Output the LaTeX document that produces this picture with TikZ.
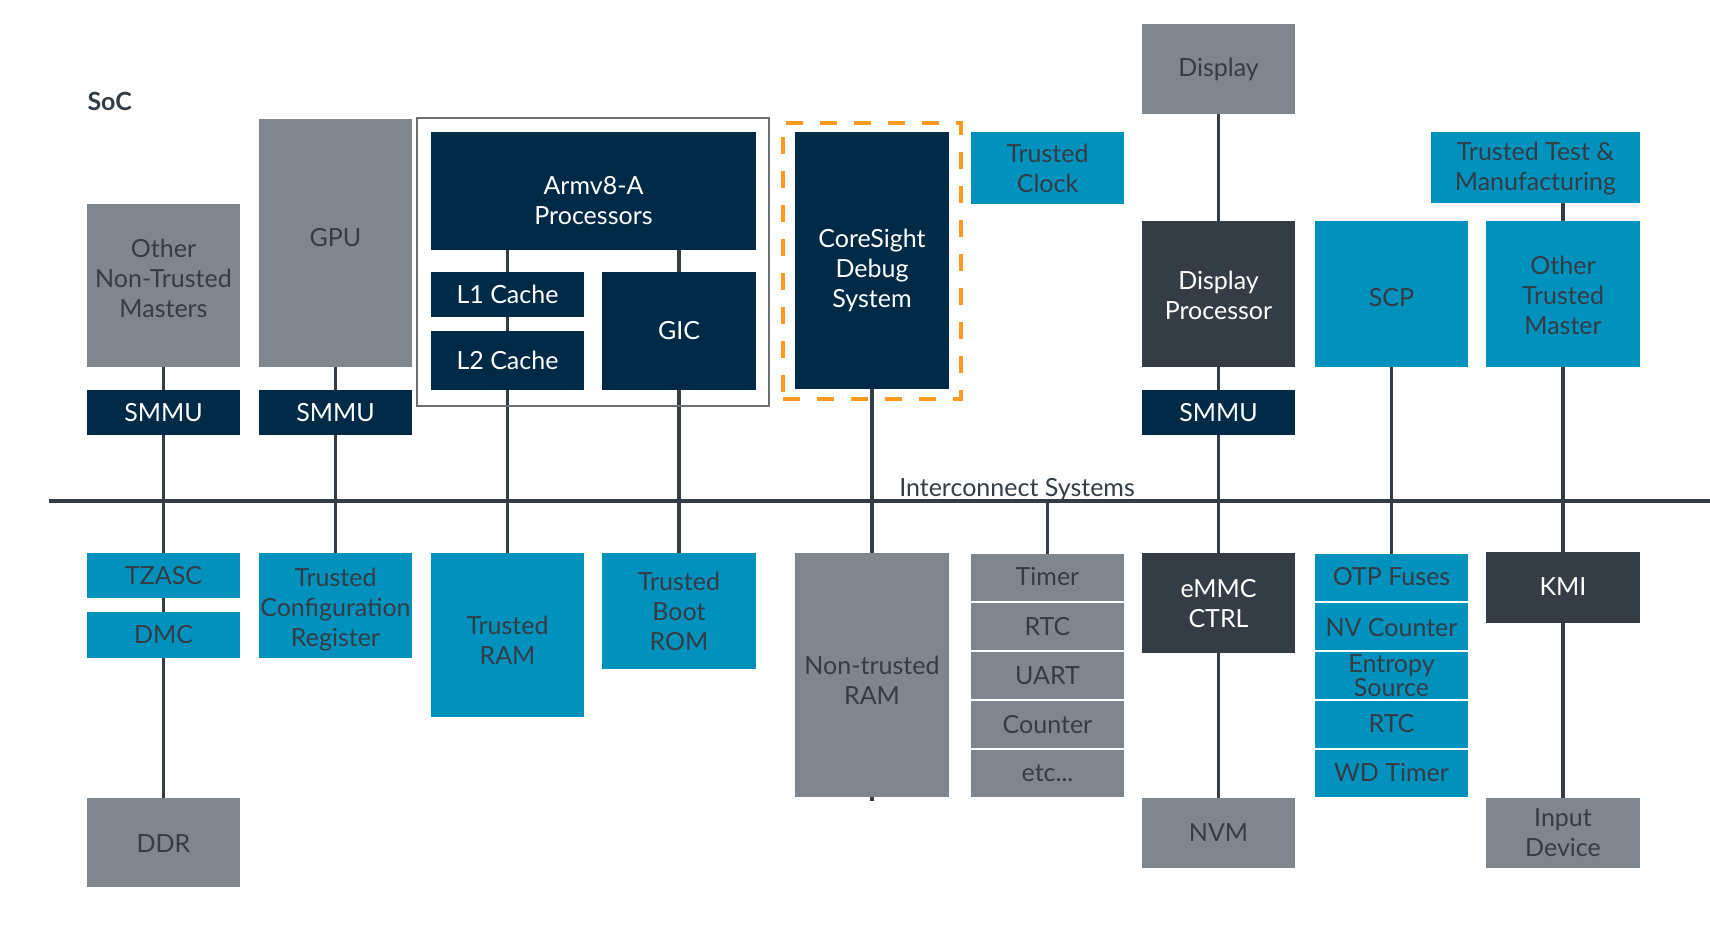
\documentclass[tikz,border=0pt]{standalone}
\usepackage{fontspec}
\setmainfont{Lato}
\usetikzlibrary{backgrounds}

\definecolor{socgrey}{HTML}{7F868D}
\definecolor{socnavy}{HTML}{012A47}
\definecolor{socslate}{HTML}{343D46}
\definecolor{soccyan}{HTML}{0091BD}
\definecolor{socorange}{HTML}{FF9A1E}
\definecolor{socframe}{HTML}{6E6F71}

% text set a little lower (or higher) in its box
\newcommand{\dropby}[2]{\raisebox{-#1}[\height][\depth]{\begin{tabular}{@{}c@{}}#2\end{tabular}}}

\tikzset{
  wh/.style 2 args={minimum width=#1pt, minimum height=#2pt},
  blk/.style={rectangle, inner sep=0pt, align=center, font=\fontsize{25}{30}\selectfont},
  greybox/.style={blk, fill=socgrey, text=socslate},
  cyanbox/.style={blk, fill=soccyan, text=socslate},
  navybox/.style={blk, fill=socnavy, text=white},
  slatebox/.style={blk, fill=socslate, text=white},
  link/.style={draw=socslate, line width=3.5pt}
}

\begin{document}
\begin{tikzpicture}[x=1pt, y=-1pt]
            \useasboundingbox (0,0) rectangle (1710,943);
            \node[anchor=base west, text=socslate, font=\fontsize{25}{30}\selectfont\bfseries] (soc) at (84,110) {SoC};

            % masters
            \node[greybox, wh={153}{163}] (other) at (163.5,285.5) {\dropby{-4pt}{Other\\Non-Trusted\\Masters}};
            \node[greybox, wh={153}{248}] (gpu) at (335.5,243) {\dropby{-3pt}{GPU}};
            \node[navybox, wh={153}{45}] (smmuA) at (163.5,412.5) {SMMU};
            \node[navybox, wh={153}{45}] (smmuB) at (335.5,412.5) {SMMU};

            % processor cluster
            \node[draw=socframe, line width=1.5pt, wh={352}{288}, inner sep=0pt] (cluster) at (593,262) {};
            \node[navybox, wh={325}{118}] (cpu) at (593.5,191) {\dropby{12pt}{Armv8-A\\Processors}};
            \node[navybox, wh={153}{45}] (lone) at (507.5,294.5) {L1 Cache};
            \node[navybox, wh={153}{59}] (ltwo) at (507.5,360.5) {L2 Cache};
            \node[navybox, wh={154}{118}] (gic) at (679,331) {GIC};

            % debug
            \node[draw=socorange, line width=3.5pt, dash pattern=on 17pt off 17pt, wh={178}{276}, inner sep=0pt] (dbgframe) at (872,261) {};
            \node[navybox, wh={154}{257}] (coresight) at (872,260.5) {\dropby{11pt}{CoreSight\\Debug\\System}};
            \node[cyanbox, wh={153}{72}] (tclock) at (1047.5,168) {Trusted\\Clock};

            % display path
            \node[greybox, wh={153}{90}] (display) at (1218.5,69) {Display};
            \node[slatebox, wh={153}{146}] (dproc) at (1218.5,294) {\dropby{4pt}{Display\\Processor}};
            \node[navybox, wh={153}{45}] (smmuC) at (1218.5,412.5) {SMMU};
            \node[cyanbox, wh={153}{146}] (scp) at (1391.5,294) {\dropby{6pt}{SCP}};
            \node[cyanbox, wh={209}{71}] (ttm) at (1535.5,167.5) {\dropby{2pt}{Trusted Test \&\\Manufacturing}};
            \node[cyanbox, wh={154}{146}] (otm) at (1563,294) {\dropby{4pt}{Other\\Trusted\\Master}};

            % interconnect
            \coordinate (busW) at (49,501);
            \coordinate (busE) at (1710,501);
            \node[anchor=base, text=socslate, font=\fontsize{25}{30}\selectfont] (ictext) at (1017,496) {Interconnect Systems};

            % slaves
            \node[cyanbox, wh={153}{45}] (tzasc) at (163.5,575.5) {\dropby{3pt}{TZASC}};
            \node[cyanbox, wh={153}{46}] (dmc) at (163.5,635) {\dropby{2pt}{DMC}};
            \node[greybox, wh={153}{89}] (ddr) at (163.5,842.5) {\dropby{4pt}{DDR}};
            \node[cyanbox, wh={153}{105}] (tcr) at (335.5,605.5) {\dropby{5pt}{Trusted\\Configuration\\Register}};
            \node[cyanbox, wh={153}{164}] (tram) at (507.5,635) {\dropby{8pt}{Trusted\\RAM}};
            \node[cyanbox, wh={154}{116}] (tboot) at (679,611) {Trusted\\Boot\\ROM};
            \node[greybox, wh={154}{244}] (ntram) at (872,675) {\dropby{8pt}{Non-trusted\\RAM}};

            \node[greybox, wh={153}{47}] (timer) at (1047.5,577.5) {\dropby{2pt}{Timer}};
            \node[greybox, wh={153}{47}] (rtcA) at (1047.5,626.5) {\dropby{3pt}{RTC}};
            \node[greybox, wh={153}{47}] (uart) at (1047.5,675.5) {UART};
            \node[greybox, wh={153}{47}] (counter) at (1047.5,724.5) {Counter};
            \node[greybox, wh={153}{47}] (etc) at (1047.5,773.5) {\dropby{2pt}{etc...}};

            \node[slatebox, wh={153}{100}] (emmc) at (1218.5,603) {\dropby{3pt}{eMMC\\CTRL}};
            \node[greybox, wh={153}{70}] (nvm) at (1218.5,833) {NVM};

            \node[cyanbox, wh={153}{47}] (otp) at (1391.5,577.5) {\dropby{2pt}{OTP Fuses}};
            \node[cyanbox, wh={153}{47}] (nvc) at (1391.5,626.5) {\dropby{4pt}{NV Counter}};
            \node[cyanbox, wh={153}{47}, font=\fontsize{25}{24}\selectfont] (entropy) at (1391.5,675.5) {Entropy\\Source};
            \node[cyanbox, wh={153}{47}] (rtcB) at (1391.5,724.5) {\dropby{2pt}{RTC}};
            \node[cyanbox, wh={153}{47}] (wdt) at (1391.5,773.5) {\dropby{2pt}{WD Timer}};

            \node[slatebox, wh={154}{71}] (kmi) at (1563,587.5) {\dropby{2pt}{KMI}};
            \node[greybox, wh={154}{70}] (input) at (1563,833) {\dropby{2pt}{Input\\Device}};

            \begin{pgfonlayer}{background}
            \draw[link] (busW) -- (busE);
            \draw[link] (other) -- (smmuA);
            \draw[link] (smmuA) -- (tzasc);
            \draw[link] (tzasc) -- (dmc);
            \draw[link] (dmc) -- (ddr);
            \draw[link] (gpu) -- (smmuB);
            \draw[link] (smmuB) -- (tcr);
            \draw[link] (cpu.south -| lone) -- (lone.north);
            \draw[link] (lone) -- (ltwo);
            \draw[link] (ltwo) -- (tram);
            \draw[link] (cpu.south -| gic) -- (gic.north);
            \draw[link] (gic) -- (tboot);
            \draw[link] (coresight.south) -- ([yshift=-4pt]ntram.south);
            \draw[link] (busW -| timer) -- (timer.north);
            \draw[link] (display) -- (dproc);
            \draw[link] (dproc) -- (smmuC);
            \draw[link] (smmuC) -- (emmc);
            \draw[link] (emmc) -- (nvm);
            \draw[link] (scp) -- (otp);
            \draw[link] (ttm.south -| otm) -- (otm.north);
            \draw[link] (otm) -- (kmi);
            \draw[link] (kmi) -- (input);
            \end{pgfonlayer}
        \end{tikzpicture}
\end{document}
